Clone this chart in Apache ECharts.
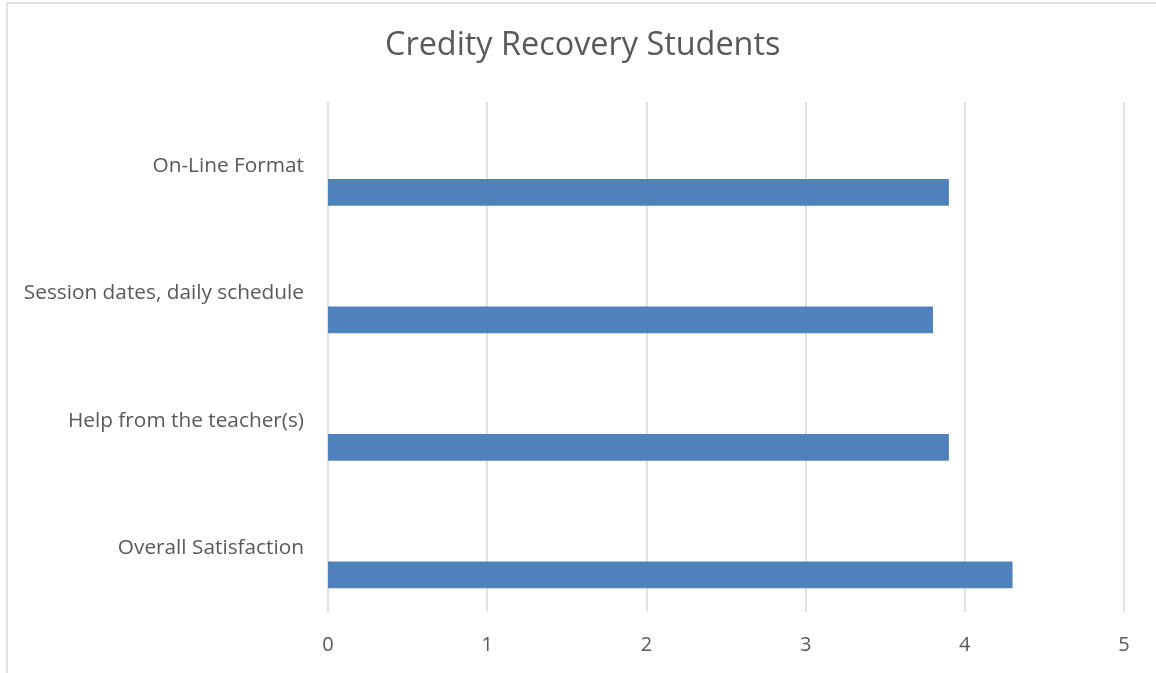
<!DOCTYPE html>
<html>
<head>
<meta charset="utf-8">
<script src="https://cdn.jsdelivr.net/npm/echarts@6/dist/echarts.min.js"></script>
<style>
  html, body { margin: 0; padding: 0; background: #ffffff; }
  #chart { width: 1156px; height: 673px; }
</style>
</head>
<body>
<div id="chart"></div>
<script>
// Survey items, listed bottom to top as they sit on the category axis
const categories = [
  'Overall Satisfaction',
  'Help from the teacher(s)',
  'Session dates, daily schedule',
  'On-Line Format'
];
// Average rating for each item
const ratings = [4.3, 3.9, 3.8, 3.9];
// Value axis ticks
const xTicks = [0, 1, 2, 3, 4, 5];

const textColor = '#595959';
const font = '"Open Sans", "Noto Sans", sans-serif';

const chart = echarts.init(document.getElementById('chart'));

// Two empty slots in each group keep the rated bar in the lower part of its band
const emptySlot = categories.map(() => null);

chart.setOption({
  animation: false,
  backgroundColor: '#ffffff',
  title: {
    text: 'Credity Recovery Students',
    left: 380,
    top: 25,
    textStyle: { color: textColor, fontSize: 32.4, fontWeight: 'normal', fontFamily: font }
  },
  grid: { left: 328, right: 32, top: 102, bottom: 61, containLabel: false },
  xAxis: {
    type: 'value',
    min: xTicks[0],
    max: xTicks[xTicks.length - 1],
    interval: 1,
    axisLine: { show: false },
    axisTick: { show: false },
    splitLine: { show: true, lineStyle: { color: '#d9d9d9', width: 1.5 } },
    axisLabel: { color: textColor, fontSize: 20, fontFamily: font, margin: 23 }
  },
  yAxis: {
    type: 'category',
    data: categories,
    axisLine: { show: false },
    axisTick: { show: false },
    splitLine: { show: false },
    axisLabel: { color: textColor, fontSize: 20.8, fontFamily: font, margin: 24 }
  },
  series: [
    { type: 'bar', data: emptySlot, barWidth: 26.6, barGap: '0%' },
    { type: 'bar', data: emptySlot, barWidth: 26.6, barGap: '0%' },
    { type: 'bar', data: ratings, barWidth: 26.6, barGap: '0%', itemStyle: { color: '#4f81bd' } }
  ],
  graphic: [{
    type: 'rect',
    shape: { x: 7, y: 3, width: 1200, height: 700 },
    style: { fill: 'none', stroke: '#d9d9d9', lineWidth: 1.5 },
    silent: true
  }]
});
</script>
</body>
</html>
